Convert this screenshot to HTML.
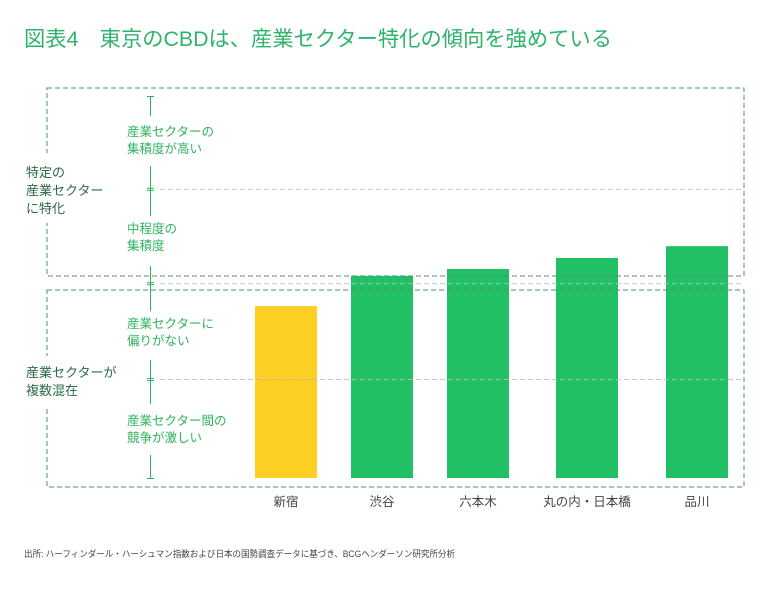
<!DOCTYPE html>
<html><head><meta charset="utf-8"><style>
body{margin:0;background:#fff;font-family:"Liberation Sans","Noto Sans CJK JP",sans-serif;}
svg text{font-family:"Liberation Sans","Noto Sans CJK JP",sans-serif;}
</style></head><body>
<svg width="768" height="586" viewBox="0 0 768 586">
<text x="24" y="46" font-size="21" textLength="588" lengthAdjust="spacingAndGlyphs" fill="#2fb36b">図表4　東京のCBDは、産業セクター特化の傾向を強めている</text>
<g id="bars"></g>
<g id="frames">
<rect x="47" y="88" width="697" height="188" fill="none" stroke="#4f8f78" stroke-dasharray="5,3"/>
<rect x="47" y="290" width="697" height="197" fill="none" stroke="#4f8f78" stroke-dasharray="5,3"/>
<rect x="20" y="153" width="90" height="70" fill="#fff"/>
<rect x="20" y="356" width="100" height="50" fill="#fff"/>
</g>
<g id="grid" opacity="0.8"></g>
<g id="axis"></g>
<g id="xlabels"></g>
<g fill="#2a6b45" font-size="13">
<text x="26" y="177">特定の</text><text x="26" y="195">産業セクター</text><text x="26" y="213">に特化</text>
<text x="26" y="377">産業セクターが</text><text x="26" y="395">複数混在</text>
</g>
<g fill="#2fb35f" font-size="12.5">
<text x="127" y="136">産業セクターの</text><text x="127" y="153">集積度が高い</text>
<text x="127" y="233">中程度の</text><text x="127" y="250">集積度</text>
<text x="127" y="328">産業セクターに</text><text x="127" y="345">偏りがない</text>
<text x="127" y="425">産業セクター間の</text><text x="127" y="442">競争が激しい</text>
</g>
<text x="24" y="557" font-size="9" textLength="431" lengthAdjust="spacingAndGlyphs" fill="#444">出所: ハーフィンダール・ハーシュマン指数および日本の国勢調査データに基づき、BCGヘンダーソン研究所分析</text>
</svg>
<script>
const categories=["新宿","渋谷","六本木","丸の内・日本橋","品川"];
const values=[45,52.9,54.7,57.6,60.7];
const highlight=[true,false,false,false,false];
const gridValues=[75.7,51,25.9];
const NS="http://www.w3.org/2000/svg";
const y0=478,yTop=96;
function yScale(v){return y0-(y0-yTop)*v/100;}
const xCenters=[286,382,478,587,697];
const bw=62;
function mk(tag,attrs,parent){const e=document.createElementNS(NS,tag);for(const k in attrs)e.setAttribute(k,attrs[k]);parent.appendChild(e);return e;}
const grid=document.getElementById('grid');
gridValues.forEach(v=>{const y=yScale(v)+0.5;
const l=mk('line',{x1:160,x2:744,y1:y,y2:y,stroke:'#bbb','stroke-dasharray':'5,3'},grid);

});
const ax=document.getElementById('axis');
const segs=[[100,94.8],[81.7,68.6],[55.5,43.7],[30.9,19.4],[6,0]];
segs.forEach(s=>{const l=mk('line',{x1:150.5,x2:150.5,y1:yScale(s[0]),y2:yScale(s[1]),stroke:'#2fb35f'},ax);

});
[100,0].forEach(v=>{mk('line',{x1:147,x2:154,y1:yScale(v)+0.5,y2:yScale(v)+0.5,stroke:'#2fb35f'},ax);});
gridValues.forEach(v=>{mk('line',{x1:147,x2:154,y1:yScale(v)-0.5,y2:yScale(v)-0.5,stroke:'#2fb35f'},ax);
mk('line',{x1:147,x2:154,y1:yScale(v)+1.5,y2:yScale(v)+1.5,stroke:'#2fb35f'},ax);});
const bars=document.getElementById('bars'),xl=document.getElementById('xlabels');
categories.forEach((c,i)=>{const y=yScale(values[i]);
const r=mk('rect',{x:xCenters[i]-bw/2,y:y,width:bw,height:y0-y,fill:highlight[i]?'#fdd023':'#22c064'},bars);


const t=mk('text',{x:xCenters[i],y:506,'text-anchor':'middle','font-size':'12.5',fill:'#444'},xl);
t.textContent=c;

});
</script>
</body></html>
